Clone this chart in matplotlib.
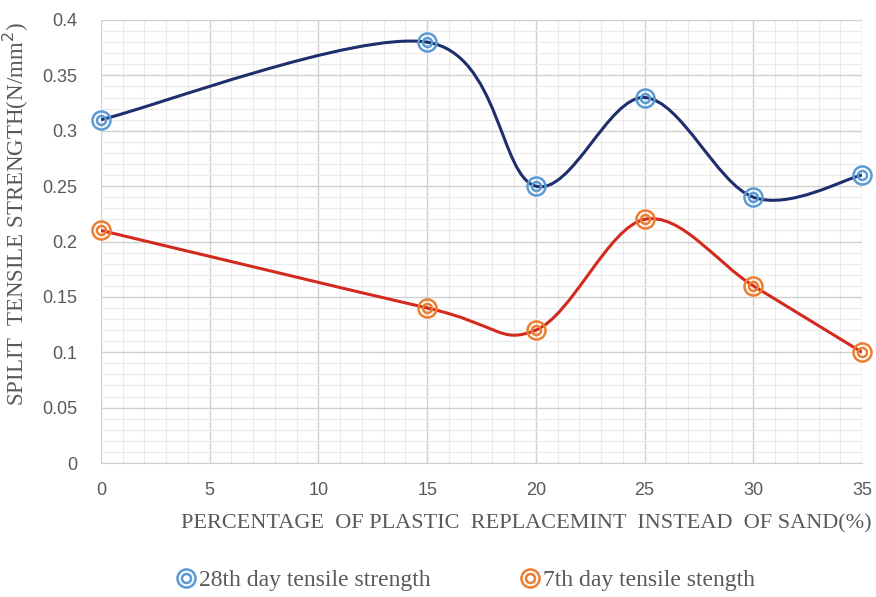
import matplotlib
matplotlib.use("Agg")
import matplotlib.pyplot as plt
import numpy as np
from matplotlib.path import Path
from matplotlib.patches import PathPatch
from matplotlib.ticker import MultipleLocator
from matplotlib.legend_handler import HandlerTuple
from matplotlib.lines import Line2D
from matplotlib import font_manager

x_pct = [0, 15, 20, 25, 30, 35]
day28 = [0.31, 0.38, 0.25, 0.33, 0.24, 0.26]
day7 = [0.21, 0.14, 0.12, 0.22, 0.16, 0.10]
label28 = "28th day tensile strength"
label7 = "7th day tensile stength"
xlabel = "PERCENTAGE  OF PLASTIC  REPLACEMINT  INSTEAD  OF SAND(%)"
ylabel = "SPILIT  TENSILE STRENGTH(N/mm$^2$)"
yticklabels = ["0", "0.05", "0.1", "0.15", "0.2", "0.25", "0.3", "0.35", "0.4"]

names = {f.name for f in font_manager.fontManager.ttflist}
tick_family = "Liberation Sans Narrow" if "Liberation Sans Narrow" in names else "Liberation Sans"
tick_size = 15 if tick_family == "Liberation Sans Narrow" else 13

fig = plt.figure(figsize=(8.76, 5.97), dpi=100)
ax = fig.add_axes([101/876, 1-463/597, 761/876, 443/597])

def smooth_path(xs, ys):
    P = np.column_stack([xs, ys]).astype(float)
    n = len(P)
    verts = [P[0]]
    codes = [Path.MOVETO]
    for i in range(n - 1):
        p_prev = P[i - 1] if i > 0 else P[i]
        p_next2 = P[i + 2] if i + 2 < n else P[i + 1]
        c1 = P[i] + (P[i + 1] - p_prev) / 6.0
        c2 = P[i + 1] - (p_next2 - P[i]) / 6.0
        verts += [c1, c2, P[i + 1]]
        codes += [Path.CURVE4] * 3
    return Path(verts, codes)

blue_line = "#1F2F6E"
blue_mk = "#5B9BD5"
red_line = "#D22A1E"
orange_mk = "#ED7D31"
OUT, INN, MEW = 13, 6.5, 1.8

for ys, lc, mc in [(day28, blue_line, blue_mk), (day7, red_line, orange_mk)]:
    ax.add_patch(PathPatch(smooth_path(x_pct, ys), facecolor="none",
                           edgecolor=lc, lw=2.2, zorder=3))
    ax.plot(x_pct, ys, ls="none", marker="o", ms=OUT, mfc="none",
            mec=mc, mew=MEW, zorder=4, clip_on=False)
    ax.plot(x_pct, ys, ls="none", marker="o", ms=INN, mfc="none",
            mec=mc, mew=MEW, zorder=4, clip_on=False)

ax.set_xlim(0, 35)
ax.set_ylim(0, 0.4)
ax.xaxis.set_major_locator(MultipleLocator(5))
ax.xaxis.set_minor_locator(MultipleLocator(1))
ax.yaxis.set_minor_locator(MultipleLocator(0.01))
ax.set_yticks(np.arange(0, 0.401, 0.05))
ax.set_yticklabels(yticklabels)
ax.grid(True, which="major", color="#D0D0D0", lw=1.0)
ax.grid(True, which="minor", color="#EBEBEB", lw=0.8)
ax.set_axisbelow(True)
for s in ax.spines.values():
    s.set_visible(False)
ax.spines["bottom"].set_visible(True)
ax.spines["bottom"].set_color("#D0D0D0")
ax.tick_params(which="both", length=0, labelsize=tick_size, colors="#595959")
for lab in ax.get_xticklabels() + ax.get_yticklabels():
    lab.set_family(tick_family)
ax.tick_params(axis="x", pad=14)
ax.tick_params(axis="y", pad=17)

fig.text(526/876, 1-524/597, xlabel, ha="center", va="center",
         family="Liberation Serif", fontsize=16, color="#595959")
fig.text(16/876, 1-214/597, ylabel, ha="center", va="center", rotation=90,
         family="Liberation Serif", fontsize=16.5, color="#595959")

def ring_handle(mc):
    return (Line2D([], [], ls="none", marker="o", ms=OUT, mfc="none", mec=mc, mew=MEW),
            Line2D([], [], ls="none", marker="o", ms=INN, mfc="none", mec=mc, mew=MEW))

fig.legend([ring_handle(blue_mk), ring_handle(orange_mk)], [label28, label7],
           loc="center", bbox_to_anchor=(466/876, 1-580/597),
           ncol=2, frameon=False, handler_map={tuple: HandlerTuple(ndivide=1)},
           handlelength=0.8, handletextpad=0.15, columnspacing=3.8,
           prop={"family": "Liberation Serif", "size": 17}, labelcolor="#595959")

fig.savefig("out.png", dpi=100)
